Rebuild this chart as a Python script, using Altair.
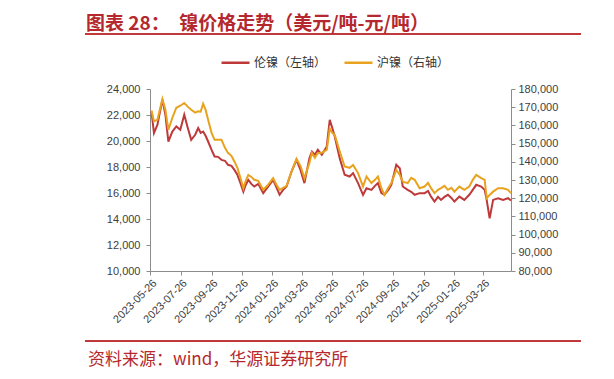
import altair as alt
import pandas as pd

# ---------------- data ----------------
dates = [
    "2023-05-28", "2023-06-02", "2023-06-09", "2023-06-19", "2023-06-25", "2023-07-01",
    "2023-07-09", "2023-07-17", "2023-07-25", "2023-08-02", "2023-08-09", "2023-08-16",
    "2023-08-24", "2023-08-30", "2023-09-04", "2023-09-09", "2023-09-14", "2023-09-19",
    "2023-09-26", "2023-10-02", "2023-10-09", "2023-10-16", "2023-10-23", "2023-10-29",
    "2023-11-05", "2023-11-11", "2023-11-17", "2023-11-23", "2023-11-29", "2023-12-03",
    "2023-12-09", "2023-12-15", "2023-12-21", "2023-12-29", "2024-01-08", "2024-01-16",
    "2024-01-28", "2024-02-04", "2024-02-10", "2024-02-17", "2024-02-24", "2024-03-05",
    "2024-03-15", "2024-03-23", "2024-03-31", "2024-04-10", "2024-04-15", "2024-04-21",
    "2024-04-27", "2024-05-05", "2024-05-15", "2024-05-21", "2024-05-26", "2024-05-31",
    "2024-06-10", "2024-06-20", "2024-06-30", "2024-07-07", "2024-07-17", "2024-07-27",
    "2024-08-03", "2024-08-13", "2024-08-20", "2024-08-26", "2024-09-02", "2024-09-08",
    "2024-09-16", "2024-09-22", "2024-10-02", "2024-10-09", "2024-10-15", "2024-10-25",
    "2024-11-01", "2024-11-08", "2024-11-18", "2024-11-28", "2024-12-05", "2024-12-11",
    "2024-12-18", "2024-12-25", "2024-12-31", "2025-01-07", "2025-01-14", "2025-01-21",
    "2025-01-27", "2025-02-06", "2025-02-16", "2025-02-26", "2025-03-05", "2025-03-12",
    "2025-03-22", "2025-03-29", "2025-04-02", "2025-04-08", "2025-04-15", "2025-04-25",
    "2025-05-05", "2025-05-15", "2025-05-21",
]

# LME nickel, USD/t (left axis)
lme = [
    22270, 20610, 21250, 23180, 22020, 19960, 20730, 21120, 20860, 22020, 21020, 20090,
    20480, 21000, 20630, 20730, 20400, 19960, 19320, 18810, 18780, 18550, 18480, 18170,
    18090, 17780, 17400, 16780, 16110, 16550, 17010, 16700, 16500, 16700, 15990, 16400,
    17010, 16400, 15860, 16240, 16500, 17650, 18550, 17780, 16760, 18680, 19190, 18940,
    19320, 18940, 19580, 21630, 21020, 20350, 18680, 17400, 17270, 17530, 16760, 15860,
    16370, 16240, 16550, 16760, 15990, 15860, 16240, 16630, 18170, 17910, 16500, 16240,
    16090, 15860, 15990, 15990, 16160, 15720, 15340, 15700, 15470, 15700, 15860, 15620,
    15340, 15720, 15470, 15860, 16240, 16630, 16500, 16240, 15470, 14060, 15470, 15600,
    15470, 15600, 15420,
]

# SHFE nickel, CNY/t (right axis)
shfe = [
    168200, 162200, 163100, 174500, 168600, 157600, 164200, 169700, 170800, 172300, 170300, 168600,
    167000, 167700, 167500, 171900, 168600, 163100, 155900, 152100, 152100, 152100, 147700, 144900,
    143300, 140200, 136700, 131200, 125500, 129000, 132800, 131700, 130100, 129500, 124600, 126800,
    131000, 127300, 124600, 125700, 126800, 134600, 141600, 137800, 131000, 139400, 144900, 142200,
    144800, 144900, 146600, 158500, 155900, 154800, 145700, 137400, 136700, 138300, 133800, 126400,
    131900, 128300, 130100, 131900, 125500, 121800, 125700, 128300, 135600, 132800, 129100, 128300,
    131200, 130100, 125500, 126400, 128400, 125500, 122800, 124600, 125500, 126800, 124600, 125700,
    123600, 126400, 124600, 126400, 130100, 132800, 131000, 130100, 120000, 121800, 123600, 125500,
    125500, 124600, 122800,
]

series_names = ["伦镍（左轴）", "沪镍（右轴）"]
series_colors = ["#BE3A3A", "#E8A21E"]

left_ticks = [10000, 12000, 14000, 16000, 18000, 20000, 22000, 24000]
right_ticks = [80000, 90000, 100000, 110000, 120000, 130000, 140000, 150000, 160000, 170000, 180000]
x_tick_dates = [
    (2023, 5, 26), (2023, 7, 26), (2023, 9, 26), (2023, 11, 26), (2024, 1, 26), (2024, 3, 26),
    (2024, 5, 26), (2024, 7, 26), (2024, 9, 26), (2024, 11, 26), (2025, 1, 26), (2025, 3, 26),
]

title_text = "图表 28：　镍价格走势（美元/吨-元/吨）"
source_text = "资料来源：wind，华源证券研究所"

# ---------------- chart ----------------
df = pd.DataFrame({"date": dates, "lme": lme, "shfe": shfe})

RED_TXT = "#B5282E"
AXIS_GRAY = "#8C8C8C"
LABEL_COL = "#404040"

def dt(t):
    return alt.DateTime(year=t[0], month=t[1], date=t[2], utc=True)

x_enc = alt.X(
    "date:T",
    scale=alt.Scale(type="utc", domain=[dt((2023, 5, 25)), dt((2025, 5, 21))]),
    axis=alt.Axis(
        values=[dt(t) for t in x_tick_dates],
        format="%Y-%m-%d",
        labelAngle=-45,
        labelFont="Liberation Sans",
        labelFontSize=11,
        labelColor=LABEL_COL,
        domainColor=AXIS_GRAY,
        tickColor=AXIS_GRAY,
        tickSize=4,
        labelPadding=2,
        grid=False,
        title=None,
        labelOverlap=False,
    ),
)

color_scale = alt.Scale(domain=series_names, range=series_colors)
legend = alt.Legend(
    orient="none",
    legendX=70,
    legendY=-42,
    direction="horizontal",
    symbolType="stroke",
    symbolSize=784,
    symbolStrokeWidth=2.5,
    labelFont="Noto Sans CJK SC",
    labelFontSize=12,
    labelColor="#333333",
    columnPadding=12,
    labelOffset=3,
    title=None,
)

left_line = alt.Chart(df).transform_calculate(
    series="'" + series_names[0] + "'"
).mark_line(strokeWidth=2).encode(
    x=x_enc,
    y=alt.Y(
        "lme:Q",
        scale=alt.Scale(domain=[10000, 24000], nice=False, zero=False),
        axis=alt.Axis(
            orient="left", values=left_ticks, format=",.0f", grid=False, title=None,
            labelFont="Liberation Sans", labelFontSize=11, labelColor=LABEL_COL,
            domainColor=AXIS_GRAY, tickColor=AXIS_GRAY, tickSize=4, labelPadding=6,
        ),
    ),
    color=alt.Color("series:N", scale=color_scale, legend=legend),
)

right_line = alt.Chart(df).transform_calculate(
    series="'" + series_names[1] + "'"
).mark_line(strokeWidth=2).encode(
    x=x_enc,
    y=alt.Y(
        "shfe:Q",
        scale=alt.Scale(domain=[80000, 180000], nice=False, zero=False),
        axis=alt.Axis(
            orient="right", values=right_ticks, format=",.0f", grid=False, title=None,
            labelFont="Liberation Sans", labelFontSize=11, labelColor=LABEL_COL,
            domainColor=AXIS_GRAY, tickColor=AXIS_GRAY, tickSize=4, labelPadding=3,
        ),
    ),
    color=alt.Color("series:N", scale=color_scale, legend=legend),
)

top_rule = alt.Chart(pd.DataFrame({"a": [0]})).mark_rule(
    color="#C0393B", strokeWidth=2
).encode(x=alt.value(-65), x2=alt.value(431), y=alt.value(-55))

bottom_rule = alt.Chart(pd.DataFrame({"a": [0]})).mark_rule(
    color="#C0393B", strokeWidth=2
).encode(x=alt.value(-65), x2=alt.value(431), y=alt.value(252))

source_mark = alt.Chart(pd.DataFrame({"t": [source_text]})).mark_text(
    align="left", baseline="middle", font="Noto Sans CJK SC", fontSize=17,
    color=RED_TXT,
).encode(text="t:N", x=alt.value(-62), y=alt.value(271))

chart = (
    alt.layer(left_line, right_line, top_rule, bottom_rule, source_mark)
    .resolve_scale(y="independent")
    .properties(
        width=361,
        height=182,
        autosize=alt.AutoSizeParams(type="none"),
        padding={"left": 142, "top": 81, "right": 95, "bottom": 100},
        background="white",
        title=alt.TitleParams(
            text=title_text,
            anchor="start",
            frame="group",
            orient="top",
            baseline="bottom",
            offset=3,
            dx=-64,
            dy=23,
            font="Noto Sans CJK SC",
            fontSize=19,
            fontWeight="bold",
            color=RED_TXT,
        ),
    )
    .configure_view(stroke=None)
)

chart.save("out.html", embed_options={"renderer": "svg", "actions": False})
